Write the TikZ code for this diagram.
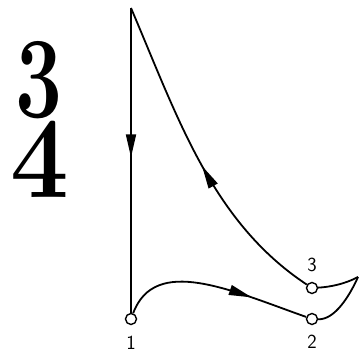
\documentclass[tikz,border=0pt]{standalone}
\usepackage{graphicx}
\usetikzlibrary{arrows.meta,decorations.markings}
\begin{document}
\begin{tikzpicture}[x=1pt,y=-1pt,line width=1.8pt,
  pt/.style={circle,draw,fill=white,line width=1.4pt,inner sep=0pt,minimum size=11pt},
  lbl/.style={font=\fontsize{20}{20}\sffamily,inner sep=0pt},
  midarrow/.style={postaction={decorate},decoration={markings,
    mark=at position #1 with {\arrow{Triangle[length=23pt,width=10pt]}}}},
  big/.style={inner sep=0pt,font=\fontsize{116}{116}\selectfont\bfseries}]
  \useasboundingbox (0,0) rectangle (359,350);
  % the fraction
  \node[big] (three) at (39,80) {\scalebox{0.72}[1]{3}};
  \node[big] (four) at (40,159) {\scalebox{0.9}[1]{4}};
  % the cycle
  \coordinate (top) at (131,8);
  \coordinate (cusp) at (358,277);
  \node[pt,label={[lbl,label distance=10pt]below:1}] (p1) at (131,319) {};
  \node[pt,label={[lbl,label distance=9pt]below:2}] (p2) at (312,319) {};
  \node[pt,label={[lbl,label distance=9pt]above:3}] (p3) at (312,288) {};
  \draw[midarrow=0.49] (top) -- (p1);
  \draw[midarrow=0.7] (p1) .. controls (155,255) and (230,290) .. (p2);
  \draw (p2) .. controls (335,320) and (350,295) .. (cusp);
  \draw (p3) .. controls (330,287) and (345,284) .. (cusp);
  \draw[midarrow=0.48] (p3) .. controls (212,222) and (178,118) .. (top);
\end{tikzpicture}
\end{document}
